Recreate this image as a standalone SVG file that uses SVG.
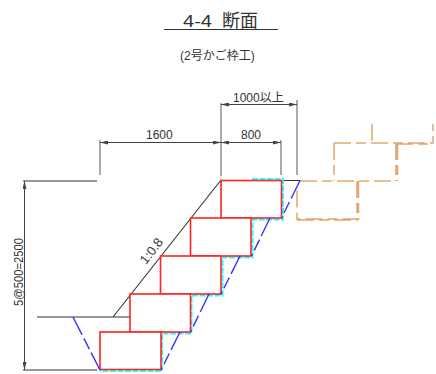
<svg xmlns="http://www.w3.org/2000/svg" width="436" height="374" viewBox="0 0 436 374">
<style>
.t{font-family:"Liberation Sans","Noto Sans CJK JP",sans-serif;fill:#333}
.d{stroke:#444;stroke-width:1;fill:none}
.g{stroke:#888;stroke-width:1.4;fill:none}
.k{stroke:#333;stroke-width:1.1;fill:none}
.r{stroke:#f22;stroke-width:1.6;fill:#fff}
.b{stroke:#33f;stroke-width:1.4;fill:none;stroke-dasharray:20 4 12 4}
.c{stroke:#2ff;stroke-width:2;fill:none;stroke-dasharray:6 1.500}
.o{stroke:#dfa86e;stroke-width:1.500;fill:none;stroke-dasharray:17 5 10 5}
</style>
<defs><marker id="a" viewBox="0 0 8 4" refX="8" refY="2" markerWidth="8" markerHeight="4" orient="auto-start-reverse" markerUnits="userSpaceOnUse"><path d="M0 0L8 2L0 4Z" fill="#444"/></marker></defs>
<g id="title"><text class="t" x="183" y="27" font-size="17" textLength="29" lengthAdjust="spacingAndGlyphs">4-4</text><text class="t" x="222" y="27" font-size="18">断面</text><path class="k" d="M164 29.500H278"/><text class="t" x="180" y="60" font-size="12">(2号かご枠工)</text></g>
<g id="connectors">
<path class="k" d="M221 180L113 317M37 317H130M23 181H97M23 370H97M281 180.500H300"/>
<path class="d" d="M24.500 181V370" marker-start="url(#a)" marker-end="url(#a)"/>
<path class="g" d="M100 140V175M221 103V176M281 140V175M297 100V175"/>
<path class="d" d="M100 142.500H221" marker-start="url(#a)" marker-end="url(#a)"/>
<path class="d" d="M221 142.500H281" marker-start="url(#a)" marker-end="url(#a)"/>
<path class="d" d="M221 104.500H297" marker-start="url(#a)" marker-end="url(#a)"/>
<path class="o" d="M300 181H396M334 143V181M334 143H433V124M372 124V143M396 144H433M396 143V181M397.500 143V181M357 181V219M358.500 181V219H297V190M297 220H358"/>
</g>
<g id="fill-lines-under"><path class="c" d="M252 179H283V219.500H252.500V257.500H222.500V295.500H191.500V333.500H162V371H100"/></g>
<g id="block1"><rect class="r" x="221" y="180.500" width="60.500" height="37.500"/></g>
<g id="block2"><rect class="r" x="190.500" y="218" width="60.500" height="38"/></g>
<g id="block3"><rect class="r" x="160.500" y="256" width="60.500" height="38"/></g>
<g id="block4"><rect class="r" x="130" y="294" width="60.500" height="38"/></g>
<g id="block5"><rect class="r" x="100" y="332" width="61" height="37.500"/></g>
<g id="fill-lines">
<path class="b" d="M300 180.500L281.500 218M270 218L251.500 256M240 256L221 294M209 294L190.500 332M180 332L161 370M73 317L100 370"/>
</g>
<g id="labels">
<text class="t" x="146" y="139" font-size="12">1600</text>
<text class="t" x="241" y="139" font-size="12">800</text>
<text class="t" x="233" y="102" font-size="12">1000以上</text>
<text class="t" x="0" y="0" font-size="12" textLength="68" lengthAdjust="spacingAndGlyphs" transform="translate(23 306) rotate(-90)">5@500=2500</text>
<text class="t" x="0" y="0" font-size="13" transform="translate(146 265) rotate(-52)">1:0.8</text>
</g>
</svg>
